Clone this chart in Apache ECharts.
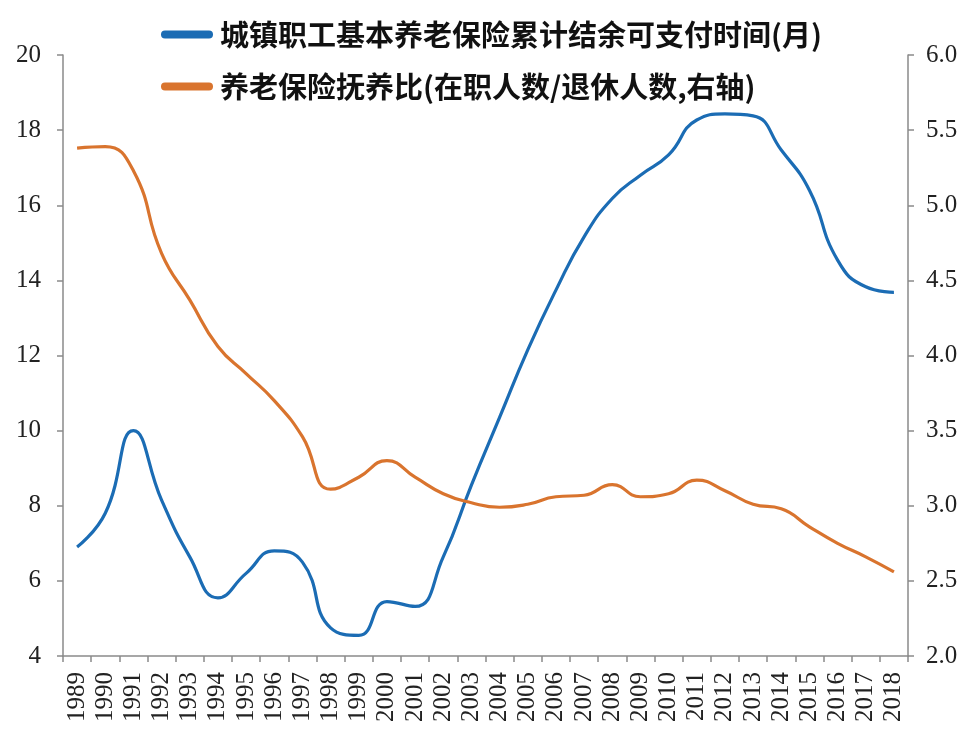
<!DOCTYPE html>
<html>
<head>
<meta charset="utf-8">
<script src="https://cdn.jsdelivr.net/npm/echarts@6/dist/echarts.min.js"></script>
<style>
  html, body { margin: 0; padding: 0; background: #fff; }
  #chart { width: 965px; height: 737px; }
</style>
</head>
<body>
<div id="chart"></div>
<script>
// Years on the category axis
const years = ['1989','1990','1991','1992','1993','1994','1995','1996','1997','1998',
               '1999','2000','2001','2002','2003','2004','2005','2006','2007','2008',
               '2009','2010','2011','2012','2013','2014','2015','2016','2017','2018'];

// Months of payment covered by the accumulated balance (left axis)
const monthsPayable = [6.9, 7.8, 10.0, 8.15, 6.64, 5.55, 6.2, 6.8, 6.5, 4.75,
                       4.55, 5.45, 5.32, 6.64, 8.55, 10.35, 12.15, 13.74, 15.16, 16.18,
                       16.8, 17.34, 18.27, 18.43, 18.38, 17.47, 16.4, 14.54, 13.83, 13.68];

// Workers per retiree (right axis)
const supportRatio = [5.38, 5.39, 5.23, 4.68, 4.37, 4.06, 3.88, 3.7, 3.46, 3.11,
                      3.19, 3.3, 3.19, 3.08, 3.02, 2.99, 3.01, 3.06, 3.07, 3.14,
                      3.06, 3.08, 3.17, 3.1, 3.01, 2.98, 2.86, 2.75, 2.66, 2.56];

const seriesNames = ['城镇职工基本养老保险累计结余可支付时间(月)', '养老保险抚养比(在职人数/退休人数,右轴)'];

const leftTicks = { min: 4, max: 20, interval: 2 };
const rightTicks = { min: 2, max: 6, interval: 0.5 };

const axisColor = '#8a8a8a';
const labelFont = { fontFamily: 'Liberation Serif', fontSize: 25, color: '#222' };
const pill = 'path://M4,0 H48 A4,4 0 0 1 48,8 H4 A4,4 0 0 1 4,0 Z';

const chart = echarts.init(document.getElementById('chart'), null, { renderer: 'canvas' });
chart.setOption({
  animation: false,
  backgroundColor: '#fff',
  legend: {
    orient: 'vertical',
    left: 156,
    top: 15,
    itemWidth: 56,
    itemHeight: 8,
    itemGap: 23,
    data: [
      { name: seriesNames[0], icon: pill },
      { name: seriesNames[1], icon: pill }
    ],
    textStyle: {
      fontFamily: 'Noto Sans CJK SC',
      fontWeight: 'bold',
      fontSize: 29,
      color: '#111'
    }
  },
  grid: { left: 63, right: 57, top: 55, bottom: 81, containLabel: false },
  xAxis: {
    type: 'category',
    data: years,
    boundaryGap: true,
    axisLine: { lineStyle: { color: axisColor, width: 1.5 } },
    axisTick: { show: true, interval: 0, length: 6, lineStyle: { color: axisColor, width: 1.5 } },
    axisLabel: Object.assign({ interval: 0, rotate: 90, margin: 16 }, labelFont),
    splitLine: { show: false }
  },
  yAxis: [
    {
      type: 'value',
      position: 'left',
      min: leftTicks.min, max: leftTicks.max, interval: leftTicks.interval,
      axisLine: { show: true, lineStyle: { color: axisColor, width: 1.5 } },
      axisTick: { show: true, length: 6, lineStyle: { color: axisColor, width: 1.5 } },
      axisLabel: Object.assign({ margin: 22 }, labelFont),
      splitLine: { show: false }
    },
    {
      type: 'value',
      position: 'right',
      min: rightTicks.min, max: rightTicks.max, interval: rightTicks.interval,
      axisLine: { show: true, lineStyle: { color: axisColor, width: 1.5 } },
      axisTick: { show: true, length: 6, lineStyle: { color: axisColor, width: 1.5 } },
      axisLabel: Object.assign({ margin: 18, formatter: v => v.toFixed(1) }, labelFont),
      splitLine: { show: false }
    }
  ],
  series: [
    {
      name: seriesNames[0],
      type: 'line',
      yAxisIndex: 0,
      data: monthsPayable,
      smooth: 0.5,
      showSymbol: false,
      color: '#1b6cb4',
      lineStyle: { width: 3.2, color: '#1b6cb4' }
    },
    {
      name: seriesNames[1],
      type: 'line',
      yAxisIndex: 1,
      data: supportRatio,
      smooth: 0.5,
      showSymbol: false,
      color: '#d9742e',
      lineStyle: { width: 3.2, color: '#d9742e' }
    }
  ]
});
</script>
</body>
</html>
